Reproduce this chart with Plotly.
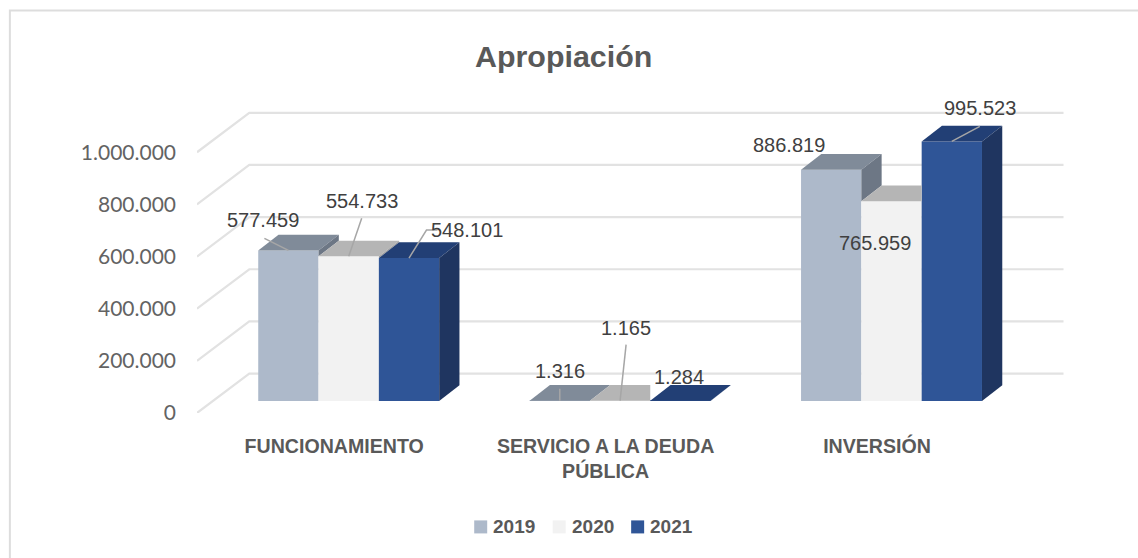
import plotly.graph_objects as go

categories = ["FUNCIONAMIENTO", "SERVICIO A LA DEUDA<br>PÚBLICA", "INVERSIÓN"]
years = ["2019", "2020", "2021"]
values_2019 = [577459, 1316, 886819]
values_2020 = [554733, 1165, 765959]
values_2021 = [548101, 1284, 995523]
y_ticks = [0, 200000, 400000, 600000, 800000, 1000000]
y_tick_labels = ["0", "200.000", "400.000", "600.000", "800.000", "1.000.000"]
title_text = "Apropiación"

series = [values_2019, values_2020, values_2021]
front_colors = ["#ADB9CA", "#F2F2F2", "#2F5597"]
top_colors = ["#808B99", "#B5B5B5", "#223F75"]
side_colors = ["#6D7785", "#A0A0A0", "#1F3560"]

W, H = 1138, 558
PX_LEFT, PX_RIGHT, PX_TOP, PX_BOTTOM = 196.7, 1070.0, 100.0, 412.7
PX_CAT0, PX_PER_CAT = 332.7, 271.5
PX_PER_VAL = 52.1 / 200000
WALL_DX, WALL_DY = 52.3, 39.4          # full depth of the floor, px
BAR_DX, BAR_DY = 20.3, 15.7            # depth of a bar, px
BAR_OFF_DX, BAR_OFF_DY = 16.0, 12.0    # gap floor front -> bar front, px
BAR_W = PX_PER_CAT * (2 / 3) / 3
TICK_NUDGE = 1.5                       # px, category labels relative to the floor centre


def dx(px):
    return px / PX_PER_CAT


def dy(px):
    return px / PX_PER_VAL


X_MIN = -0.5
X_MAX = X_MIN + dx(PX_RIGHT - PX_LEFT)
Y_MAX = dy(PX_BOTTOM - PX_TOP)
base = dy(BAR_OFF_DY)
shift = dx(BAR_OFF_DX)

fig = go.Figure()

# front faces
for s, vals in enumerate(series):
    fig.add_trace(go.Bar(
        x=[i + shift for i in range(len(categories))], y=vals, base=[base] * len(vals),
        name=years[s], marker=dict(color=front_colors[s], line=dict(width=0)),
        showlegend=False, hoverinfo="skip",
    ))


def left_x(i, s):
    return i + shift + dx(BAR_W) * (s - 1.5)


# tops and right sides, clipped where the neighbouring bar covers them
for i in range(len(categories)):
    for s, vals in enumerate(series):
        v = vals[i]
        nxt = series[s + 1][i] if s + 1 < len(series) else 0
        xl, xr = left_x(i, s), left_x(i, s) + dx(BAR_W)
        ddx, ddy = dx(BAR_DX), dy(BAR_DY)
        y0 = base + v
        if s + 1 < len(series) and nxt > v:
            tx = [xl, xr, xr, xl + ddx, xl]
            ty = [y0, y0, y0 + ddy, y0 + ddy, y0]
        else:
            tx = [xl, xr, xr + ddx, xl + ddx, xl]
            ty = [y0, y0, y0 + ddy, y0 + ddy, y0]
        fig.add_trace(go.Scatter(x=tx, y=ty, mode="lines", fill="toself", fillcolor=top_colors[s],
                                 line=dict(width=0), showlegend=False, hoverinfo="skip"))
        if nxt < v:
            y1 = base + nxt
            fig.add_trace(go.Scatter(
                x=[xr, xr + ddx, xr + ddx, xr, xr], y=[y0, y0 + ddy, y1 + ddy, y1, y0],
                mode="lines", fill="toself", fillcolor=side_colors[s],
                line=dict(width=0), showlegend=False, hoverinfo="skip"))

# labels: (label dx, label dy, leader points), px offsets from the top centre of the front face
label_style = [
    [(-25, -30, [(-24, -12)]), (13, -55, [(13, -38)]), (57.5, -28, [(28.5, -28), (17.5, -28)])],
    [(0, -30, [(0, -12)]), (6, -73, [(6, -56)]), (-1, -24, [])],
    [(-42, -25, []), (-17, 42, []), (28, -33, [(28, -15)])],
]
annotations = []
for i in range(len(categories)):
    for s, vals in enumerate(series):
        ax_x = left_x(i, s) + dx(BAR_W) / 2
        ax_y = base + vals[i]
        ldx, ldy, pts = label_style[i][s]
        annotations.append(dict(
            x=ax_x, y=ax_y, xref="x", yref="y", xshift=ldx, yshift=-ldy,
            text=f"{vals[i]:,}".replace(",", "."), showarrow=False,
            xanchor="center", yanchor="middle",
            font=dict(family="Liberation Sans", size=20, color="#404040"),
        ))
        if pts:
            fig.add_trace(go.Scatter(
                x=[ax_x + dx(p[0]) for p in pts] + [ax_x],
                y=[ax_y - dy(p[1]) for p in pts] + [ax_y],
                mode="lines", line=dict(color="#A6A6A6", width=1.5),
                showlegend=False, hoverinfo="skip"))

shapes = []
# gridlines on floor and back wall
for t in y_ticks:
    wx, wy = dx(WALL_DX), dy(WALL_DY)
    shapes.append(dict(
        type="path", layer="below", xref="x", yref="y",
        path=f"M {X_MIN} {t} L {X_MIN + wx} {t + wy} L {2.5 + wx} {t + wy}",
        line=dict(color="#E2E2E2", width=2.2),
    ))


def paper_x(px):
    return (px - PX_LEFT) / (PX_RIGHT - PX_LEFT)


def paper_y(py):
    return (PX_BOTTOM - py) / (PX_BOTTOM - PX_TOP)


# chart frame: only the left and top edges fall inside the picture
shapes.append(dict(type="path", layer="below", xref="paper", yref="paper",
                   path=f"M {paper_x(9.5)} {paper_y(560)} L {paper_x(9.5)} {paper_y(10.5)} L {paper_x(1140)} {paper_y(10.5)}",
                   line=dict(color="#DDDDDD", width=2)))

# legend
legend_px = [474, 552.5, 631]
for s, yr in enumerate(years):
    shapes.append(dict(type="rect", xref="paper", yref="paper",
                       x0=paper_x(legend_px[s]), x1=paper_x(legend_px[s] + 13),
                       y0=paper_y(533), y1=paper_y(520),
                       fillcolor=front_colors[s], line=dict(width=0)))
    annotations.append(dict(x=paper_x(legend_px[s] + 17), y=paper_y(526.5), xref="paper", yref="paper",
                            text=f"<b>{yr}</b>", showarrow=False, xanchor="left", yanchor="middle",
                            font=dict(family="Liberation Sans", size=19, color="#595959")))

annotations.append(dict(x=paper_x(563.5), y=paper_y(56), xref="paper", yref="paper",
                        text=f"<b>{title_text}</b>", showarrow=False, xanchor="center", yanchor="middle",
                        font=dict(family="Liberation Sans", size=30.4, color="#595959")))

fig.update_layout(
    width=W, height=H, autosize=False,
    margin=dict(l=PX_LEFT, r=W - PX_RIGHT, t=PX_TOP, b=H - PX_BOTTOM, pad=0),
    paper_bgcolor="white", plot_bgcolor="white",
    barmode="group", bargap=1 / 3, bargroupgap=0,
    showlegend=False, shapes=shapes, annotations=annotations,
    xaxis=dict(range=[X_MIN, X_MAX], tickvals=[i + dx(TICK_NUDGE) for i in range(len(categories))],
               ticktext=[f"<b>{c}</b>" for c in categories],
               showgrid=False, zeroline=False, showline=False, ticks="", ticklabelstandoff=19,
               tickfont=dict(family="Liberation Sans", size=19.6, color="#595959"), tickangle=0),
    yaxis=dict(range=[0, Y_MAX], tickvals=y_ticks, ticktext=y_tick_labels,
               showgrid=False, zeroline=False, showline=False, ticks="", ticklabelstandoff=20,
               tickfont=dict(family="Lato", size=21, color="#636363")),
)

fig.write_html("out.html", config={"displayModeBar": False},
               post_script="document.body.style.margin='0';document.body.style.overflow='hidden';")
